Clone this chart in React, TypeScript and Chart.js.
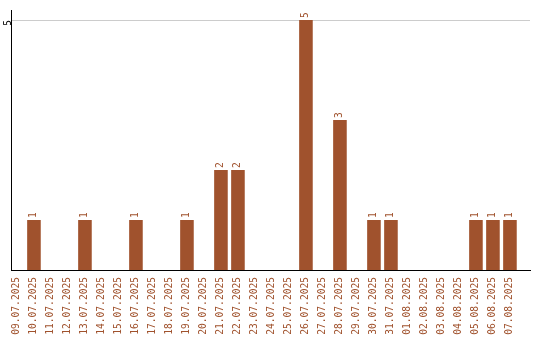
import React, { useEffect, useRef } from "react";
import { Chart, registerables } from "chart.js";

Chart.register(...registerables);

const dates = [
  "09.07.2025", "10.07.2025", "11.07.2025", "12.07.2025", "13.07.2025",
  "14.07.2025", "15.07.2025", "16.07.2025", "17.07.2025", "18.07.2025",
  "19.07.2025", "20.07.2025", "21.07.2025", "22.07.2025", "23.07.2025",
  "24.07.2025", "25.07.2025", "26.07.2025", "27.07.2025", "28.07.2025",
  "29.07.2025", "30.07.2025", "31.07.2025", "01.08.2025", "02.08.2025",
  "03.08.2025", "04.08.2025", "05.08.2025", "06.08.2025", "07.08.2025",
];

const counts = [
  0, 1, 0, 0, 1,
  0, 0, 1, 0, 0,
  1, 0, 2, 2, 0,
  0, 0, 5, 0, 3,
  0, 1, 1, 0, 0,
  0, 0, 1, 1, 1,
];

const yTicks = [5];

const BROWN = "#A0522D";
const FONT = { family: "'DejaVu Sans Mono', monospace", size: 9.6 };

// Writes each non-zero count vertically just above its bar
const valueLabels = {
  id: "valueLabels",
  afterDatasetsDraw(chart: any) {
    const ctx = chart.ctx;
    const meta = chart.getDatasetMeta(0);
    ctx.save();
    ctx.fillStyle = BROWN;
    ctx.font = `${FONT.size}px ${FONT.family}`;
    ctx.textAlign = "left";
    ctx.textBaseline = "middle";
    meta.data.forEach((bar: any, i: number) => {
      const v = counts[i];
      if (!v) return;
      ctx.save();
      ctx.translate(bar.x, bar.y - 2);
      ctx.rotate(-Math.PI / 2);
      ctx.fillText(String(v), 0, 0);
      ctx.restore();
    });
    ctx.restore();
  },
};

export default function App() {
  const ref = useRef<HTMLCanvasElement>(null);

  useEffect(() => {
    if (!ref.current) return;
    const chart = new Chart(ref.current, {
      type: "bar",
      data: {
        datasets: [
          {
            data: counts.map((y, x) => ({ x, y })),
            backgroundColor: BROWN,
            barPercentage: 0.8,
            categoryPercentage: 1,
          },
        ],
      },
      options: {
        responsive: false,
        animation: false,
        layout: { padding: { top: 10, right: 10, left: 0, bottom: 0 } },
        plugins: { legend: { display: false }, tooltip: { enabled: false } },
        scales: {
          x: {
            type: "linear",
            offset: false,
            // day axis leaves a little room on the left and a wider margin on the right
            min: -0.35,
            max: dates.length + 0.18,
            afterBuildTicks: (axis: any) => {
              axis.ticks = dates.map((_, i) => ({ value: i }));
            },
            afterFit: (axis: any) => {
              axis.height = 70;
            },
            grid: { drawOnChartArea: false, drawTicks: false },
            border: { color: "#000", width: 1 },
            ticks: {
              color: BROWN,
              font: FONT,
              minRotation: 90,
              maxRotation: 90,
              autoSkip: false,
              padding: 7,
              callback: (value: any) => dates[value] ?? "",
            },
          },
          y: {
            min: 0,
            max: 5.2,
            afterBuildTicks: (axis: any) => {
              axis.ticks = yTicks.map((value) => ({ value }));
            },
            afterFit: (axis: any) => {
              axis.width = 11;
            },
            grid: { color: "#cccccc", drawTicks: false },
            border: { color: "#000", width: 1 },
            ticks: {
              color: "#000",
              font: FONT,
              minRotation: 90,
              maxRotation: 90,
              padding: 3,
            },
          },
        },
      },
      plugins: [valueLabels],
    });
    return () => chart.destroy();
  }, []);

  return (
    <div style={{ position: "absolute", left: 0, top: 0, width: 540, height: 340, background: "#fff" }}>
      <canvas ref={ref} width={540} height={340} />
    </div>
  );
}
